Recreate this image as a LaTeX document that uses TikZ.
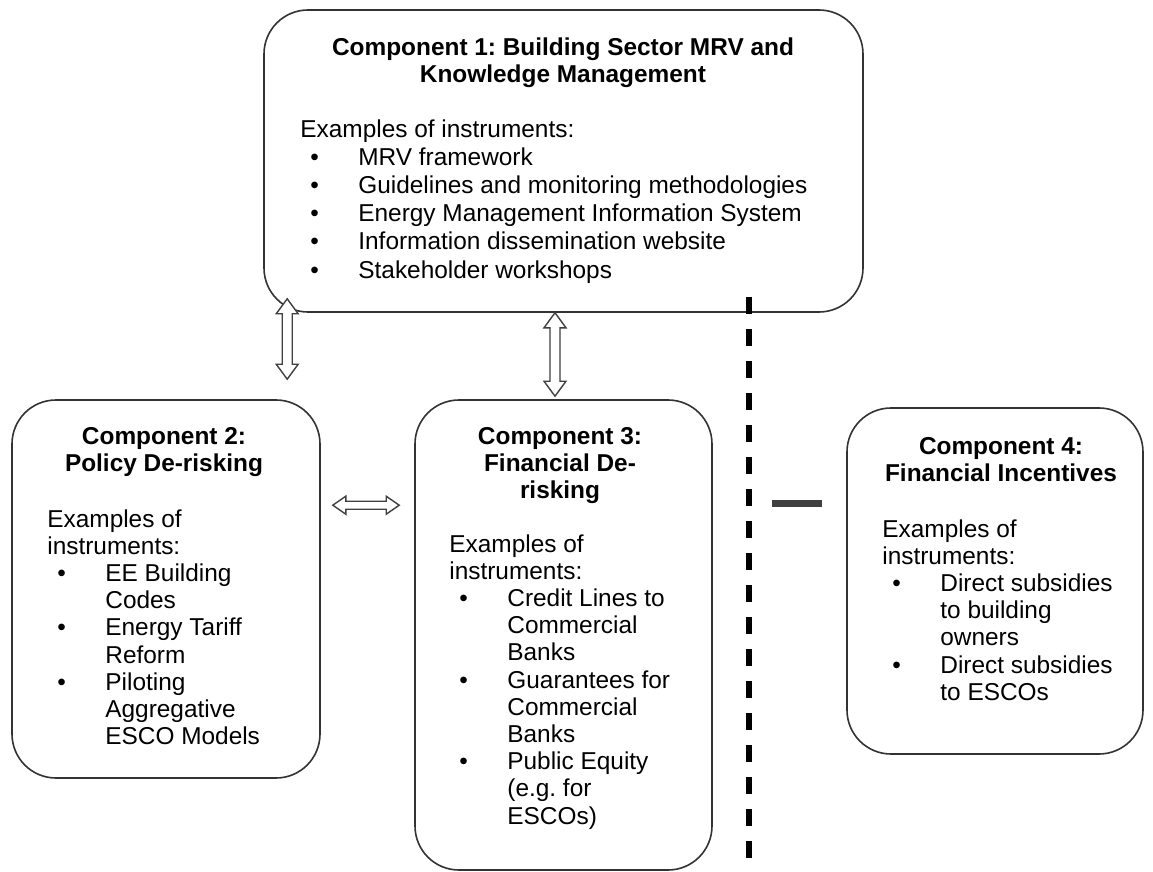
\documentclass[tikz,border=0pt]{standalone}
\usepackage{fontspec}
\setmainfont{Liberation Sans}
\usetikzlibrary{calc}
\frenchspacing
\newcommand{\listfont}{\fontsize{12.2}{13.6}\selectfont}
\newcommand{\toplistfont}{\fontsize{12.2}{14.1}\selectfont}
\newcommand{\titlefont}{\fontsize{12.2}{13.6}\selectfont\bfseries}
\newcommand{\bulitem}{\makebox[29pt][l]{\hspace{5pt}\textbullet}}
\newcommand{\contline}{\hspace*{29pt}}
\tikzset{
  compbox/.style={draw=black!80,line width=0.8pt,rounded corners=22pt,fill=white,inner sep=0pt},
  titletext/.style={font=\titlefont,align=center,inner sep=0pt,anchor=north},
  listtext/.style={font=\listfont,align=left,inner sep=0pt,anchor=north west},
  blockarrow/.style={draw=black!75,line width=0.7pt,fill=white},
  sepline/.style={line width=3pt,dash pattern=on 8.5pt off 7.5pt},
  minusbar/.style={fill=black!75,minimum width=25pt,minimum height=3.5pt,inner sep=0pt}
}
\newcommand{\vblock}[2]{%
\draw[blockarrow] let \p1=(#1),\p2=(#2) in (\x1,\y1)--(\x1+5.5pt,\y1-7.5pt)--(\x1+2.5pt,\y1-7.5pt)--(\x1+2.5pt,\y2+7.5pt)--(\x1+5.5pt,\y2+7.5pt)--(\x1,\y2)--(\x1-5.5pt,\y2+7.5pt)--(\x1-2.5pt,\y2+7.5pt)--(\x1-2.5pt,\y1-7.5pt)--(\x1-5.5pt,\y1-7.5pt)--cycle;}
\newcommand{\hblock}[2]{%
\draw[blockarrow] let \p1=(#1),\p2=(#2) in (\x1,\y1)--(\x1+6.5pt,\y1+4.5pt)--(\x1+6.5pt,\y1+2pt)--(\x2-6.5pt,\y1+2pt)--(\x2-6.5pt,\y1+4.5pt)--(\x2,\y1)--(\x2-6.5pt,\y1-4.5pt)--(\x2-6.5pt,\y1-2pt)--(\x1+6.5pt,\y1-2pt)--(\x1+6.5pt,\y1-4.5pt)--cycle;}
\begin{document}
\begin{tikzpicture}[x=0.5pt,y=-0.5pt]
\useasboundingbox[fill=white](0,0) rectangle (1153,872);
\node[compbox,minimum width=299.5pt,minimum height=151pt](c1) at (563.5,161){};
\node[compbox,minimum width=154pt,minimum height=189pt](c2) at (166,589){};
\node[compbox,minimum width=148.5pt,minimum height=235pt](c3) at (563.5,635){};
\node[compbox,minimum width=148pt,minimum height=173pt](c4) at (995,581){};
\node[titletext](c1title) at (563,37){Component 1: Building Sector MRV and\\Knowledge Management};
\node[listtext,font=\toplistfont](c1list) at (300,119){Examples of instruments:\\
\bulitem MRV framework\\
\bulitem Guidelines and monitoring methodologies\\
\bulitem Energy Management Information System\\
\bulitem Information dissemination website\\
\bulitem Stakeholder workshops};
\node[titletext](c2title) at (164,427){Component 2:\\Policy De-risking};
\node[listtext](c2list) at (47,509){Examples of\\instruments:\\
\bulitem EE Building\\\contline Codes\\
\bulitem Energy Tariff\\\contline Reform\\
\bulitem Piloting\\\contline Aggregative\\\contline ESCO Models};
\node[titletext](c3title) at (560,427){Component 3:\\Financial De-\\risking};
\node[listtext](c3list) at (449,534){Examples of\\instruments:\\
\bulitem Credit Lines to\\\contline Commercial\\\contline Banks\\
\bulitem Guarantees for\\\contline Commercial\\\contline Banks\\
\bulitem Public Equity\\\contline (e.g. for\\\contline ESCOs)};
\node[titletext](c4title) at (1001,437){Component 4:\\Financial Incentives};
\node[listtext](c4list) at (882,519){Examples of\\instruments:\\
\bulitem Direct subsidies\\\contline to building\\\contline owners\\
\bulitem Direct subsidies\\\contline to ESCOs};
\vblock{[shift={(12pt,7pt)}]c1.south west}{[shift={(-16pt,10pt)}]c2.north east}
\vblock{[shift={(-4.25pt,0pt)}]c1.south}{[shift={(-4.25pt,1.5pt)}]c3.north}
\hblock{[shift={(6pt,-53pt)}]c2.north east}{[shift={(-7.5pt,0pt)}]c3.north west}
\coordinate(septop) at (749,297);
\coordinate(sepbot) at (749,872);
\draw[sepline](septop)--(sepbot);
\node[minusbar](minus) at (797,503){};
\end{tikzpicture}
\end{document}
